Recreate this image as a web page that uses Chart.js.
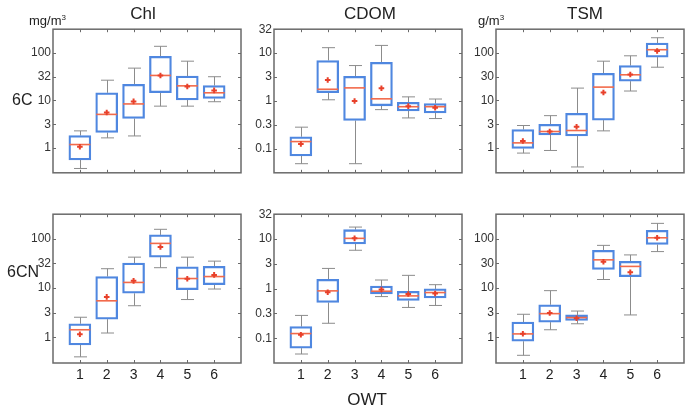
<!DOCTYPE html>
<html>
<head>
<meta charset="utf-8">
<script src="https://cdn.jsdelivr.net/npm/chart.js@4"></script>
<style>
  body { margin: 0; width: 686px; height: 411px; overflow: hidden; background: #fff; position: relative;
         font-family: 'Liberation Sans', Arial, sans-serif; color: #222; }
  .lbl { position: absolute; white-space: nowrap; line-height: 1; z-index: 2; }
  .panel { position: absolute; z-index: 1; }
  sup { font-size: 8px; vertical-align: 5px; }
</style>
</head>
<body>
<div class="lbl" style="left:29px; top:14px; font-size:13px;">mg/m<sup>3</sup></div>
<div class="lbl" style="left:143px; top:5px; font-size:17px; transform:translateX(-50%);">Chl</div>
<div class="lbl" style="left:370px; top:5px; font-size:17px; transform:translateX(-50%);">CDOM</div>
<div class="lbl" style="left:585px; top:5px; font-size:17px; transform:translateX(-50%);">TSM</div>
<div class="lbl" style="left:478px; top:14px; font-size:13px;">g/m<sup>3</sup></div>
<div class="lbl" style="left:12px; top:92px; font-size:16px;">6C</div>
<div class="lbl" style="left:7px; top:264px; font-size:16px;">6CN</div>
<div class="lbl" style="left:367px; top:391px; font-size:17px; transform:translateX(-50%);">OWT</div>

<script>
// optical water types on the x axis
const owt = [1, 2, 3, 4, 5, 6];

// one row per OWT: [whisker low, q1, median, q3, whisker high, mean]
const chl6C = [
  [0.37, 0.56, 1.18, 1.82, 2.29, 1.06],
  [1.63, 2.12, 5.09, 14.5, 26.7, 5.58],
  [1.79, 4.17, 8.45, 21.9, 47.9, 9.55],
  [7.59, 14.5, 33.6, 84.5, 138, 33.6],
  [7.59, 10.3, 20.3, 32.6, 67.1, 19.7],
  [9.4, 11.0, 14.5, 20.6, 31.6, 16.3]
];
const cdom6C = [
  [0.049, 0.071, 0.142, 0.179, 0.284, 0.126],
  [1.06, 1.49, 1.76, 7.03, 13.0, 2.75],
  [0.049, 0.392, 1.88, 3.26, 5.5, 1.0],
  [0.66, 0.794, 1.11, 6.41, 14.5, 1.85],
  [0.443, 0.62, 0.76, 0.94, 1.22, 0.78],
  [0.43, 0.566, 0.76, 0.885, 1.1, 0.724]
];
const tsm6C = [
  [0.78, 0.98, 1.28, 2.44, 2.97, 1.40],
  [0.885, 1.88, 2.22, 3.16, 4.79, 2.22],
  [0.398, 1.79, 2.33, 5.33, 18.2, 2.8],
  [2.29, 3.86, 19.1, 37.4, 67.1, 14.7],
  [15.8, 25.5, 34.7, 54.1, 87.1, 35.3],
  [50.1, 81.9, 117, 161, 209, 110]
];
const chl6CN = [
  [0.40, 0.70, 1.42, 1.88, 2.55, 1.15],
  [1.22, 2.33, 5.5, 17.1, 24.7, 6.6],
  [4.37, 7.82, 13.0, 32.1, 42.4, 14.0],
  [25.9, 42.4, 80.7, 120, 156, 68.1],
  [5.84, 9.26, 15.6, 27.1, 42.4, 15.4],
  [9.55, 11.7, 17.1, 27.5, 35.2, 18.5]
];
const cdom6CN = [
  [0.048, 0.063, 0.124, 0.171, 0.288, 0.117],
  [0.2, 0.525, 0.90, 1.54, 2.55, 0.845],
  [5.93, 7.94, 10.3, 15.4, 17.4, 10.3],
  [0.69, 0.78, 0.885, 1.13, 1.49, 0.955],
  [0.417, 0.575, 0.713, 0.885, 1.85, 0.78],
  [0.457, 0.65, 0.832, 0.985, 1.2, 0.794]
];
const tsm6CN = [
  [0.43, 0.83, 1.17, 2.03, 2.93, 1.18],
  [1.42, 2.03, 3.02, 4.57, 8.85, 3.11],
  [1.88, 2.19, 2.51, 2.84, 3.41, 2.44],
  [14.9, 24.0, 37.4, 58.5, 73.6, 34.1],
  [2.84, 17.1, 27.5, 34.7, 47.1, 20.9],
  [55, 77, 105, 149, 206, 105]
];

// log axis ticks (half decades)
const chlTicks = [1, 3.1623, 10, 31.623, 100];
const chlTickLabels = ['1', '3', '10', '32', '100'];
const cdomTicks = [0.1, 0.31623, 1, 3.1623, 10, 31.623];
const cdomTickLabels = ['0.1', '0.3', '1', '3', '10', '32'];
const tsmTicks = [1, 3.1623, 10, 31.623, 100];
const tsmTickLabels = ['1', '3', '10', '30', '100'];

const BOX_BLUE = '#4f87e0';
const MEDIAN = '#f26a4b';
const MEAN = '#e8402a';
const WHISKER = '#8c8c8c';
const FRAME = '#6a6a6a';

const PW = 190, PH = 150;
const colX = [53, 274, 496];
const rowY = [28, 213];

// whiskers behind the boxes, medians on top of them, frame with inward ticks last
const boxPlugin = {
  id: 'owtBoxes',
  beforeDatasetsDraw(chart) {
    const rows = chart.options.plugins.owtBoxes.rows;
    const xs = chart.scales.x, ys = chart.scales.y, ctx = chart.ctx;
    ctx.save();
    ctx.strokeStyle = WHISKER;
    ctx.lineWidth = 1;
    rows.forEach((r, i) => {
      const x = Math.round(xs.getPixelForValue(owt[i])) + 0.5;
      const yLo = ys.getPixelForValue(r[0]), yQ1 = ys.getPixelForValue(r[1]);
      const yQ3 = ys.getPixelForValue(r[3]), yHi = ys.getPixelForValue(r[4]);
      ctx.beginPath();
      ctx.moveTo(x, yQ1); ctx.lineTo(x, yLo);
      ctx.moveTo(x - 6.5, yLo); ctx.lineTo(x + 6.5, yLo);
      ctx.moveTo(x, yQ3); ctx.lineTo(x, yHi);
      ctx.moveTo(x - 6.5, yHi); ctx.lineTo(x + 6.5, yHi);
      ctx.stroke();
    });
    ctx.restore();
  },
  afterDatasetDraw(chart, args) {
    if (args.index !== 1) return;
    const rows = chart.options.plugins.owtBoxes.rows;
    const xs = chart.scales.x, ys = chart.scales.y, ctx = chart.ctx;
    ctx.save();
    ctx.strokeStyle = MEDIAN;
    ctx.lineWidth = 1.6;
    rows.forEach((r, i) => {
      const x = xs.getPixelForValue(owt[i]);
      const y = ys.getPixelForValue(r[2]);
      ctx.beginPath();
      ctx.moveTo(x - 10.5, y); ctx.lineTo(x + 10.5, y);
      ctx.stroke();
    });
    ctx.restore();
  },
  afterDraw(chart) {
    const a = chart.chartArea, ctx = chart.ctx;
    const xs = chart.scales.x, ys = chart.scales.y;
    ctx.save();
    ctx.strokeStyle = FRAME;
    ctx.lineWidth = 1;
    ctx.beginPath();
    ys.ticks.forEach(t => {
      const y = Math.round(ys.getPixelForValue(t.value)) + 0.5;
      ctx.moveTo(a.left, y); ctx.lineTo(a.left + 3, y);
      ctx.moveTo(a.right, y); ctx.lineTo(a.right - 3, y);
    });
    owt.forEach(v => {
      const x = Math.round(xs.getPixelForValue(v)) + 0.5;
      ctx.moveTo(x, a.top); ctx.lineTo(x, a.top + 3);
      ctx.moveTo(x, a.bottom); ctx.lineTo(x, a.bottom - 3);
    });
    ctx.stroke();
    ctx.lineWidth = 1.5;
    ctx.strokeRect(a.left, a.top, a.right - a.left, a.bottom - a.top);
    ctx.restore();
  }
};

function makePanel(col, row, rows, ticks, tickLabels, logMin, logMax) {
  const bottom = row === 1;
  const w = 50 + PW + 4;
  const h = 8 + PH + (bottom ? 30 : 4);
  const div = document.createElement('div');
  div.className = 'panel';
  div.style.left = (colX[col] - 50) + 'px';
  div.style.top = (rowY[row] - 8) + 'px';
  div.style.width = w + 'px';
  div.style.height = h + 'px';
  const canvas = document.createElement('canvas');
  canvas.width = w;
  canvas.height = h;
  div.appendChild(canvas);
  document.body.appendChild(div);

  new Chart(canvas.getContext('2d'), {
    type: 'bar',
    data: {
      datasets: [{
        type: 'scatter',
        data: owt.map((v, i) => ({ x: v, y: rows[i][5] })),
        pointStyle: 'cross',
        pointRadius: 2.8,
        borderColor: MEAN,
        borderWidth: 2,
        backgroundColor: MEAN
      }, {
        type: 'bar',
        data: owt.map((v, i) => ({ x: v, y: [rows[i][1], rows[i][3]] })),
        barThickness: 22,
        backgroundColor: 'rgba(255,255,255,0)',
        borderColor: BOX_BLUE,
        borderWidth: 1.6,
        borderSkipped: false
      }]
    },
    options: {
      responsive: false,
      animation: false,
      layout: { padding: { top: 8, right: 4, left: 0, bottom: bottom ? 0 : 4 } },
      scales: {
        x: {
          type: 'linear',
          min: 0,
          max: 7,
          offset: false,
          grid: { display: false, drawTicks: false },
          border: { display: false },
          afterBuildTicks: s => { s.ticks = owt.map(v => ({ value: v })); },
          afterFit: s => { s.height = bottom ? 30 : 0; },
          ticks: {
            display: bottom,
            padding: 4,
            color: '#222',
            font: { family: "'Liberation Sans', Arial", size: 14 },
            callback: v => String(v)
          }
        },
        y: {
          type: 'logarithmic',
          min: Math.pow(10, logMin),
          max: Math.pow(10, logMax),
          grid: { display: false, drawTicks: false },
          border: { display: false },
          afterBuildTicks: s => { s.ticks = ticks.map(v => ({ value: v })); },
          afterFit: s => { s.width = 50; },
          ticks: {
            padding: 2,
            color: '#333',
            font: { family: "'Liberation Sans', Arial", size: 12 },
            callback: (v, i) => tickLabels[i]
          }
        }
      },
      plugins: {
        legend: { display: false },
        tooltip: { enabled: false },
        owtBoxes: { rows: rows }
      }
    },
    plugins: [boxPlugin]
  });
}

makePanel(0, 0, chl6C, chlTicks, chlTickLabels, -0.5, 2.5);
makePanel(1, 0, cdom6C, cdomTicks, cdomTickLabels, -1.5, 1.5);
makePanel(2, 0, tsm6C, tsmTicks, tsmTickLabels, -0.5, 2.5);
makePanel(0, 1, chl6CN, chlTicks, chlTickLabels, -0.5, 2.5);
makePanel(1, 1, cdom6CN, cdomTicks, cdomTickLabels, -1.5, 1.5);
makePanel(2, 1, tsm6CN, tsmTicks, tsmTickLabels, -0.5, 2.5);
</script>
</body>
</html>
